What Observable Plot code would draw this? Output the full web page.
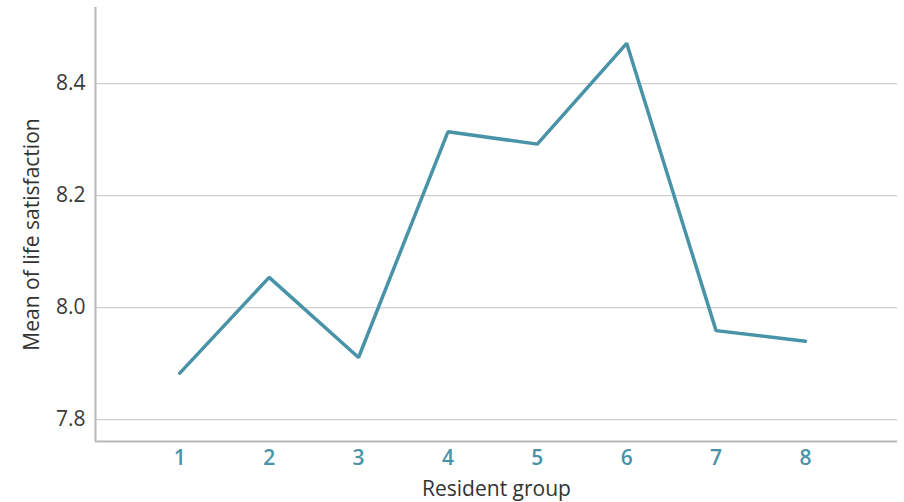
<!DOCTYPE html>
<html>
<head>
<meta charset="utf-8">
<script src="https://cdn.jsdelivr.net/npm/d3@7"></script>
<script src="https://cdn.jsdelivr.net/npm/@observablehq/plot@0.6"></script>
<style>
  html, body { margin: 0; padding: 0; background: #fff; }
  #chart { width: 904px; height: 502px; }
</style>
</head>
<body>
<div id="chart"></div>
<script>
const groups = [1, 2, 3, 4, 5, 6, 7, 8];
const means = [7.883, 8.054, 7.911, 8.314, 8.292, 8.472, 7.959, 7.940];
const yTicks = [7.8, 8.0, 8.2, 8.4];
const xLabel = "Resident group";
const yLabel = "Mean of life satisfaction";

const data = groups.map((g, i) => ({group: g, mean: means[i]}));
const xDomain = [0.057, 9.03];
const yDomain = [7.761, 8.536];
const teal = "#4893a7";
const font = "'Open Sans', Lato, sans-serif";

const chart = Plot.plot({
  width: 904,
  height: 502,
  marginLeft: 95,
  marginRight: 7,
  marginTop: 7,
  marginBottom: 61,
  style: {fontFamily: font, background: "#fff"},
  x: {domain: xDomain, label: null},
  y: {domain: yDomain, label: null},
  marks: [
    Plot.gridY(yTicks, {stroke: "#cfcfcf", strokeOpacity: 1, strokeWidth: 1.2}),
    Plot.ruleX([xDomain[0]], {stroke: "#b8b8b8", strokeWidth: 2}),
    Plot.ruleY([yDomain[0]], {stroke: "#b8b8b8", strokeWidth: 2}),
    Plot.axisY(yTicks, {tickSize: 0, tickPadding: 10, fontSize: 21, fill: "#3a3a3a", tickFormat: d3.format(".1f"), label: null}),
    Plot.axisX(groups, {tickSize: 0, tickPadding: 9, fontSize: 21, fontWeight: 600, fill: teal, tickFormat: d => String(d), label: null}),
    Plot.line(data, {x: "group", y: "mean", stroke: teal, strokeWidth: 3.5, strokeLinejoin: "miter"}),
    Plot.text([yLabel], {frameAnchor: "left", textAnchor: "middle", lineAnchor: "middle", rotate: -90, dx: -63, dy: 10, fontSize: 21, fill: "#333", text: d => d}),
    Plot.text([xLabel], {frameAnchor: "bottom", textAnchor: "middle", lineAnchor: "middle", dy: 48, fontSize: 21, fill: "#333", text: d => d})
  ]
});
document.getElementById("chart").appendChild(chart);
</script>
</body>
</html>
